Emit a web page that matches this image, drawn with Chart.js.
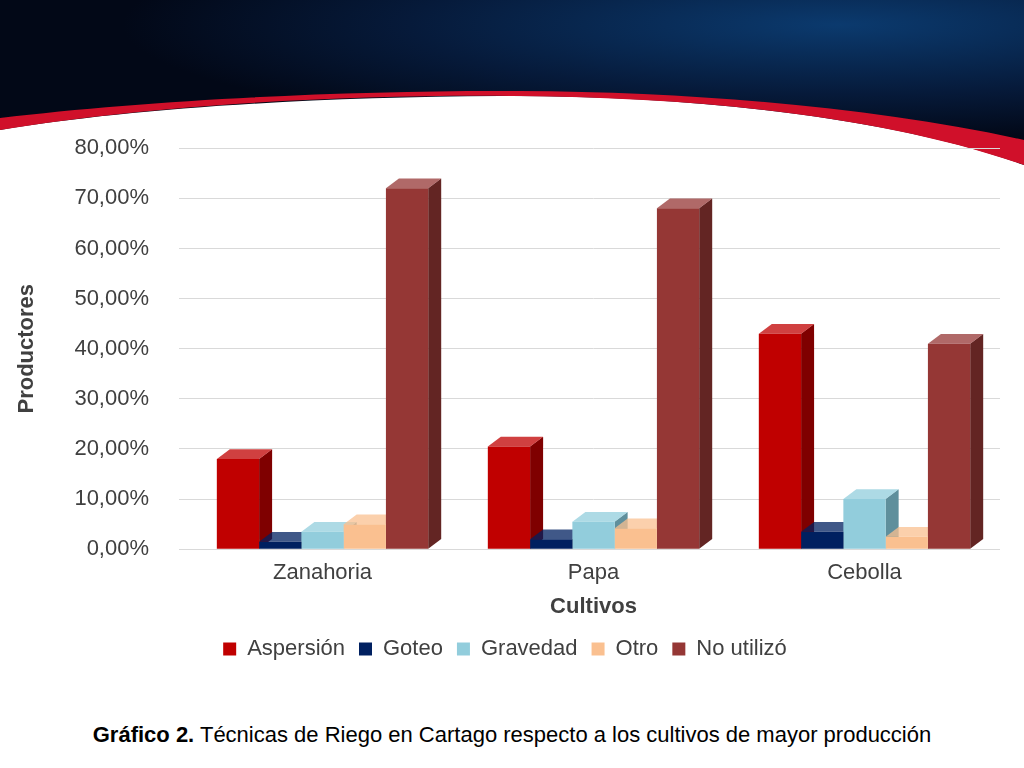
<!DOCTYPE html>
<html><head><meta charset="utf-8">
<script src="https://cdn.jsdelivr.net/npm/chart.js@4"></script>
<style>
body{margin:0;width:1024px;height:768px;overflow:hidden;background:#fff;font-family:"Liberation Sans",Arial,sans-serif;position:relative}
#bg{position:absolute;left:0;top:0}
#wrap{position:absolute;left:10px;top:105px;width:990px;height:565px}
#cap{position:absolute;left:0;width:1024px;top:722px;text-align:center;font-size:22px;color:#000}
</style></head><body>
<svg id="bg" width="1024" height="200">
<defs><radialGradient id="g" cx="0.82" cy="0.15" r="0.7"><stop offset="0" stop-color="#0b3a6e"/><stop offset="0.6" stop-color="#061a3a"/><stop offset="1" stop-color="#020817"/></radialGradient></defs>
<path d="M0 0H1024V165C900 120 700 95 500 96C300 97 120 110 0 130Z" fill="url(#g)"/>
<path d="M0 130C150 105 350 94 520 96C700 98 880 115 1024 165V140C880 108 700 92 520 91C350 90 150 100 0 118Z" fill="#d0102a"/>
</svg>
<div id="wrap"><canvas id="c"></canvas></div>
<div id="cap"><b>Gráfico 2.</b> Técnicas de Riego en Cartago respecto a los cultivos de mayor producción</div>
<script>
var cultivos = ['Zanahoria', 'Papa', 'Cebolla'];
var aspersion = [18, 20.5, 43];
var goteo = [1.5, 2, 3.5];
var gravedad = [3.5, 5.5, 10];
var otro = [5, 4.2, 2.5];
var noUtilizo = [72, 68, 41];
var colores = ['#c00000', '#002060', '#92cddc', '#fac090', '#953735'];
var lados = ['#7f0000', '#001030', '#5f8f9c', '#c09070', '#632523'];

var depth = {
  id: 'depth',
  beforeDatasetsDraw: function(chart) {
    var c = chart.ctx, d = 13;
    chart.data.datasets.forEach(function(ds, i) {
      chart.getDatasetMeta(i).data.forEach(function(b) {
        var l = b.x - b.width / 2, r = b.x + b.width / 2;
        c.fillStyle = lados[i];
        c.beginPath(); c.moveTo(r, b.y); c.lineTo(r + d, b.y - d * 0.75); c.lineTo(r + d, b.base - d * 0.75); c.lineTo(r, b.base); c.fill();
        c.fillStyle = colores[i]; c.globalAlpha = 0.75;
        c.beginPath(); c.moveTo(l, b.y); c.lineTo(l + d, b.y - d * 0.75); c.lineTo(r + d, b.y - d * 0.75); c.lineTo(r, b.y); c.fill();
        c.globalAlpha = 1;
      });
    });
  }
};

new Chart(document.getElementById('c'), {
  type: 'bar',
  data: {
    labels: cultivos,
    datasets: [
      {label: 'Aspersión', data: aspersion},
      {label: 'Goteo', data: goteo},
      {label: 'Gravedad', data: gravedad},
      {label: 'Otro', data: otro},
      {label: 'No utilizó', data: noUtilizo}
    ].map(function(ds, i) { ds.backgroundColor = colores[i]; return ds; })
  },
  options: {
    responsive: true, maintainAspectRatio: false, animation: false,
    datasets: {bar: {categoryPercentage: 0.78, barPercentage: 1}},
    layout: {padding: {top: 18, bottom: 0}},
    plugins: {
      legend: {position: 'bottom', labels: {font: {size: 22}, color: '#404040', boxWidth: 13, boxHeight: 13, padding: 14}},
      tooltip: {enabled: false}
    },
    scales: {
      y: {min: 0, max: 80, ticks: {stepSize: 10, padding: 30, font: {size: 22}, color: '#404040', callback: function(v) { return v.toFixed(2).replace('.', ',') + '%'; }},
          grid: {color: '#d9d9d9'}, border: {display: false},
          title: {display: true, text: 'Productores', font: {size: 22, weight: 'bold'}, color: '#404040'}},
      x: {ticks: {font: {size: 22}, color: '#404040'}, grid: {display: false}, border: {color: '#d9d9d9'},
          title: {display: true, text: 'Cultivos', font: {size: 22, weight: 'bold'}, color: '#404040'}}
    }
  },
  plugins: [depth]
});
</script>
</body></html>
